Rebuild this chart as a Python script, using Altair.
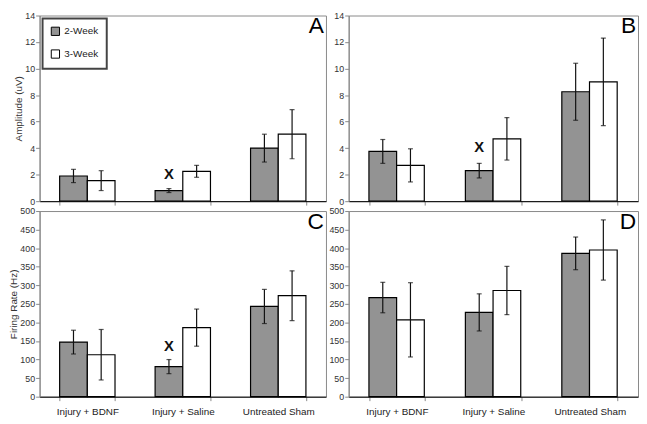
import altair as alt
import pandas as pd

groups = ["Injury + BDNF", "Injury + Saline", "Untreated Sham"]
weeks = ["2-Week", "3-Week"]

# Panel A: Amplitude (uV)
a_mean_2 = [1.9, 0.8, 4.0]
a_err_2 = [0.5, 0.15, 1.05]
a_mean_3 = [1.55, 2.25, 5.05]
a_err_3 = [0.75, 0.45, 1.85]

# Panel B: Amplitude (uV)
b_mean_2 = [3.75, 2.3, 8.25]
b_err_2 = [0.9, 0.55, 2.15]
b_mean_3 = [2.7, 4.7, 9.0]
b_err_3 = [1.25, 1.6, 3.3]

# Panel C: Firing rate (Hz)
c_mean_2 = [147, 81, 243]
c_err_2 = [32, 19, 46]
c_mean_3 = [113, 186, 272]
c_err_3 = [68, 50, 67]

# Panel D: Firing rate (Hz)
d_mean_2 = [267, 227, 386]
d_err_2 = [41, 50, 44]
d_mean_3 = [207, 286, 395]
d_err_3 = [100, 65, 81]

# "X" significance marks above Injury + Saline 2-Week bar
x_mark_a = 2.05
x_mark_b = 4.1
x_mark_c = 136

FONT = "Liberation Sans"


def make_df(m2, e2, m3, e3):
    rows = []
    for g, m, e in zip(groups, m2, e2):
        rows.append({"group": g, "week": weeks[0], "mean": m, "lo": m - e, "hi": m + e})
    for g, m, e in zip(groups, m3, e3):
        rows.append({"group": g, "week": weeks[1], "mean": m, "lo": m - e, "hi": m + e})
    return pd.DataFrame(rows)


def panel(df, ymax, step, ytitle, letter, show_legend, show_xlabels, xmark, width, height):
    x_enc = alt.X(
        "group:N",
        sort=groups,
        scale=alt.Scale(paddingInner=0.42, paddingOuter=0.21),
        axis=alt.Axis(
            title=None,
            labels=show_xlabels,
            tickBand="extent",
            tickSize=4,
            tickColor="#888",
            domainColor="#000",
            labelFontSize=10,
            labelPadding=6,
            labelColor="#222",
            labelAngle=0,
        ),
    )
    xo_enc = alt.XOffset("week:N", sort=weeks, scale=alt.Scale(paddingInner=0, paddingOuter=0))
    y_scale = alt.Scale(domain=[0, ymax], nice=False)
    yvals = list(range(0, ymax + 1, step))
    y_axis = alt.Axis(
        values=yvals,
        title=ytitle if ytitle else None,
        grid=False,
        tickSize=4,
        tickColor="#888",
        domainColor="#888",
        labelFontSize=9,
        labelColor="#333",
        labelPadding=1,
        titleFontSize=10,
        titleFontWeight="normal",
        titleColor="#333",
        titlePadding=1,
        format="d",
    )
    legend = (
        alt.Legend(
            title=None,
            orient="none",
            legendX=3,
            legendY=3,
            strokeColor="#444",
            fillColor="white",
            padding=8,
            rowPadding=9,
            symbolType="square",
            symbolSize=70,
            symbolStrokeColor="black",
            symbolStrokeWidth=1,
            labelFontSize=10,
            labelColor="#222",
            labelFont=FONT,
        )
        if show_legend
        else None
    )
    base = alt.Chart(df)
    bars = base.mark_bar(stroke="black", strokeWidth=1.2).encode(
        x=x_enc,
        xOffset=xo_enc,
        y=alt.Y("mean:Q", scale=y_scale, axis=y_axis),
        fill=alt.Fill(
            "week:N",
            scale=alt.Scale(domain=weeks, range=["#939393", "#ffffff"]),
            legend=legend,
        ),
    )
    rules = base.mark_rule(color="#111", strokeWidth=1.2).encode(
        x=x_enc, xOffset=xo_enc, y=alt.Y("lo:Q", scale=y_scale, axis=y_axis), y2="hi:Q"
    )
    cap_lo = base.mark_tick(color="#111", size=5, thickness=1.2).encode(
        x=x_enc, xOffset=xo_enc, y=alt.Y("lo:Q", scale=y_scale, axis=y_axis)
    )
    cap_hi = base.mark_tick(color="#111", size=5, thickness=1.2).encode(
        x=x_enc, xOffset=xo_enc, y=alt.Y("hi:Q", scale=y_scale, axis=y_axis)
    )
    layers = [bars, rules, cap_lo, cap_hi]
    if xmark is not None:
        mdf = pd.DataFrame({"group": [groups[1]], "week": [weeks[0]], "y": [xmark], "t": ["X"]})
        layers.append(
            alt.Chart(mdf)
            .mark_text(fontSize=15, fontWeight="bold", font=FONT, color="#111", baseline="middle")
            .encode(x=x_enc, xOffset=xo_enc, y=alt.Y("y:Q", scale=y_scale, axis=y_axis), text="t:N")
        )
    ldf = pd.DataFrame({"letter": [letter]})
    layers.append(
        alt.Chart(ldf)
        .mark_text(fontSize=23, font=FONT, color="#000", align="right", baseline="alphabetic")
        .encode(x=alt.value(width - 2), y=alt.value(18), text="letter:N")
    )
    return alt.layer(*layers).properties(width=width, height=height)


W1, W2, H = 290, 293, 188
A = panel(make_df(a_mean_2, a_err_2, a_mean_3, a_err_3), 14, 2, "Amplitude (uV)", "A", True, False, x_mark_a, W1, H)
B = panel(make_df(b_mean_2, b_err_2, b_mean_3, b_err_3), 14, 2, None, "B", False, False, x_mark_b, W2, H)
C = panel(make_df(c_mean_2, c_err_2, c_mean_3, c_err_3), 500, 50, "Firing Rate (Hz)", "C", False, True, x_mark_c, W1, H)
D = panel(make_df(d_mean_2, d_err_2, d_mean_3, d_err_3), 500, 50, None, "D", False, True, None, W2, H)

chart = (
    alt.concat(A, B, C, D, columns=2, spacing={"row": 10, "column": 23}, bounds="flush")
    .resolve_legend(fill="independent")
    .properties(padding={"left": 0, "top": 0, "right": 0, "bottom": 0})
    .configure_view(stroke="#888", strokeWidth=1)
    .configure_axis(labelFont=FONT, titleFont=FONT)
    .configure_legend(strokeWidth=2)
    .configure_text(font=FONT)
)

chart.save("out.html", embed_options={"renderer": "svg", "actions": False})
